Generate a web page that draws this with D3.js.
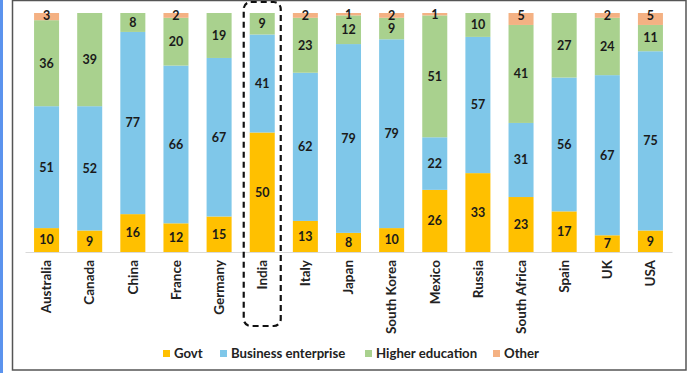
<!DOCTYPE html>
<html>
<head>
<meta charset="utf-8">
<script src="https://cdn.jsdelivr.net/npm/d3@7"></script>
<style>
  body { margin: 0; background: #fff; }
  text { font-family: Lato, "Open Sans", sans-serif; }
</style>
</head>
<body>
<div id="chart"></div>
<script>
// categories and series (percent shares of R&D spend)
const countries = ['Australia','Canada','China','France','Germany','India','Italy','Japan','South Korea','Mexico','Russia','South Africa','Spain','UK','USA'];
const govt      = [10, 9, 16, 12, 15, 50, 13, 8, 10, 26, 33, 23, 17, 7, 9];
const business  = [51, 52, 77, 66, 67, 41, 62, 79, 79, 22, 57, 31, 56, 67, 75];
const higherEdu = [36, 39, 8, 20, 19, 9, 23, 12, 9, 51, 10, 41, 27, 24, 11];
const other     = [3, 0, 0, 2, 0, 0, 2, 1, 2, 1, 0, 5, 0, 2, 5];

const seriesNames = ['Govt','Business enterprise','Higher education','Other'];
const colors = ['#ffc000','#7fc7e9','#a9d18e','#f4b183'];

const W = 691, H = 373;
const svg = d3.select('#chart').append('svg')
    .attr('width', W)
    .attr('height', H);

// outer frame like the screenshot
svg.append('rect').attr('x',0).attr('y',0).attr('width',3).attr('height',H).attr('fill','#5b93ee');
svg.append('rect')
    .attr('x',12.5).attr('y',0.5).attr('width',673.5).attr('height',369.5)
    .attr('fill','none').attr('stroke','#555').attr('stroke-width',1.5);

// build a row table for d3.stack
const rows = countries.map((c,i)=>({
    country: c,
    'Govt': govt[i],
    'Business enterprise': business[i],
    'Higher education': higherEdu[i],
    'Other': other[i]
}));

const stacked = d3.stack().keys(seriesNames).offset(d3.stackOffsetExpand)(rows);

const x = d3.scaleBand().domain(countries).range([25, 672]).paddingInner(0.42).paddingOuter(0.21);
const y = d3.scaleLinear().domain([0,1]).range([252, 13]);

const layers = svg.selectAll('g.layer').data(stacked).enter()
    .append('g').attr('class','layer')
    .attr('fill',(d,i)=>colors[i]);

layers.selectAll('rect').data(d=>d).enter()
    .append('rect')
        .attr('x',d=>x(d.data.country))
        .attr('y',d=>y(d[1]))
        .attr('width',x.bandwidth())
        .attr('height',d=>y(d[0])-y(d[1]));

// value labels centred in each segment (skip zeros)
stacked.forEach(layer=>{
    svg.append('g').selectAll('text').data(layer.filter(d=>d.data[layer.key]>0)).enter()
        .append('text')
            .attr('x',d=>x(d.data.country)+x.bandwidth()/2)
            .attr('y',d=>{
                const mid=(y(d[0])+y(d[1]))/2;
                // tiny top segments sit a touch higher so they clear the label below
                return layer.key==='Other' ? Math.min(mid,y(d[1])+3) : mid;
            })
            .attr('dy','0.35em')
            .attr('text-anchor','middle')
            .attr('font-size',12.5)
            .attr('font-weight','bold')
            .attr('fill','#1a1a1a')
            .text(d=>d.data[layer.key]);
});

// x axis
const xAxis = svg.append('g')
    .attr('transform','translate(0,252)')
    .call(d3.axisBottom(x).tickSize(0).tickPadding(0));
xAxis.select('.domain').attr('stroke','#d9d9d9');
xAxis.selectAll('text')
    .attr('transform','rotate(-90)')
    .attr('x',-8).attr('y',0).attr('dy','0.35em')
    .attr('text-anchor','end')
    .attr('font-size',13.5)
    .attr('font-weight','bold')
    .attr('fill','#222')
    .style('font-family','Lato, sans-serif');

// dashed highlight round India
const ix = x('India');
svg.append('rect')
    .attr('x',ix-6).attr('y',2)
    .attr('width',x.bandwidth()+12).attr('height',324)
    .attr('rx',7).attr('ry',7)
    .attr('fill','none').attr('stroke','#111')
    .attr('stroke-width',2.2).attr('stroke-dasharray','6,4');

// legend
const legendX = [163, 220, 365, 493];
const legend = svg.append('g').selectAll('g').data(seriesNames).enter()
    .append('g').attr('transform',(d,i)=>`translate(${legendX[i]},353)`);
legend.append('rect').attr('x',0).attr('y',-3).attr('width',7).attr('height',7)
    .attr('fill',(d,i)=>colors[i]);
legend.append('text').attr('x',11).attr('y',0).attr('dy','0.35em')
    .attr('font-size',13.2).attr('font-weight','bold').attr('fill','#222')
    .text(d=>d);
</script>
</body>
</html>
